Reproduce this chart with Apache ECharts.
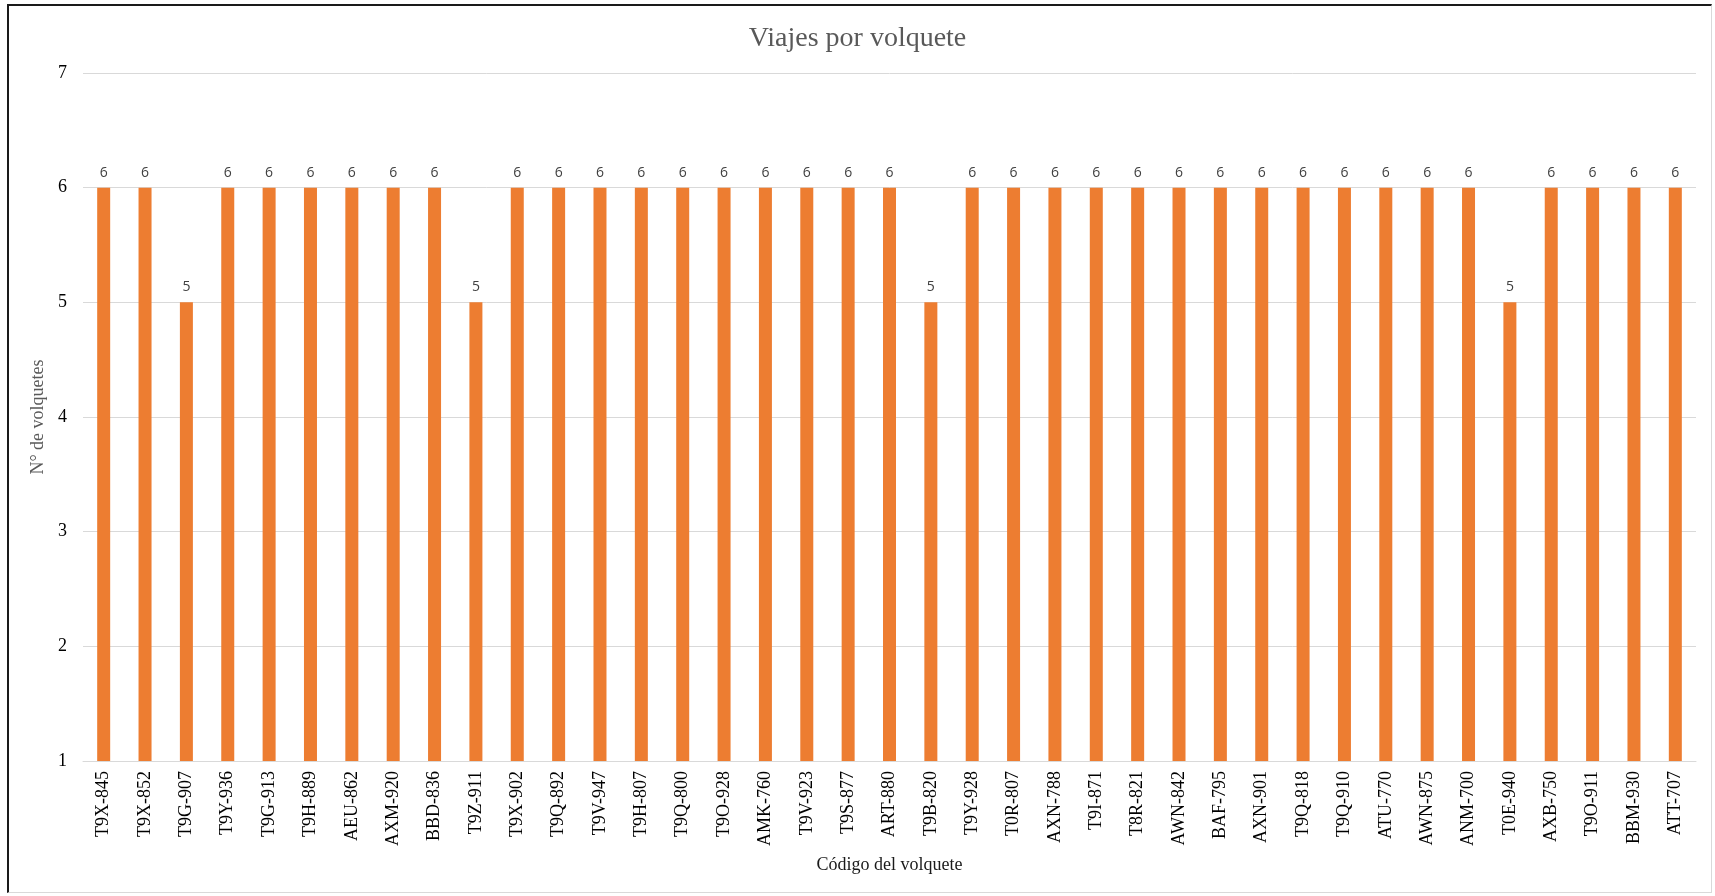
<!DOCTYPE html>
<html>
<head>
<meta charset="utf-8">
<title>Viajes por volquete</title>
<script src="https://cdn.jsdelivr.net/npm/echarts@6/dist/echarts.min.js"></script>
<style>
  html, body { margin: 0; padding: 0; background: #ffffff; }
  #frame {
    position: absolute; left: 7px; top: 4px; width: 1705px; height: 889px;
    border-top: 2px solid #1a1a1a; border-left: 2px solid #1a1a1a;
    border-right: 1px solid #d9d9d9; border-bottom: 1px solid #d9d9d9;
    box-sizing: border-box;
  }
  #chart { position: absolute; left: 0; top: 0; width: 1715px; height: 896px; }
</style>
</head>
<body>
<div id="frame"></div>
<div id="chart"></div>
<script>
// Truck codes (x axis categories)
const codigos = [
  'T9X-845', 'T9X-852', 'T9G-907', 'T9Y-936', 'T9G-913', 'T9H-889', 'AEU-862',
  'AXM-920', 'BBD-836', 'T9Z-911', 'T9X-902', 'T9Q-892', 'T9V-947', 'T9H-807',
  'T9Q-800', 'T9O-928', 'AMK-760', 'T9V-923', 'T9S-877', 'ART-880', 'T9B-820',
  'T9Y-928', 'T0R-807', 'AXN-788', 'T9I-871', 'T8R-821', 'AWN-842', 'BAF-795',
  'AXN-901', 'T9Q-818', 'T9Q-910', 'ATU-770', 'AWN-875', 'ANM-700', 'T0E-940',
  'AXB-750', 'T9O-911', 'BBM-930', 'ATT-707'
];

// Trips made by each truck
const viajes = [
  6, 6, 5, 6, 6, 6, 6,
  6, 6, 5, 6, 6, 6, 6,
  6, 6, 6, 6, 6, 6, 5,
  6, 6, 6, 6, 6, 6, 6,
  6, 6, 6, 6, 6, 6, 5,
  6, 6, 6, 6
];

// Value axis range
const yMin = 1;
const yMax = 7;
const yStep = 1;

const serif = '"Liberation Serif", "DejaVu Serif", serif';
const sans = '"Open Sans", "Liberation Sans", sans-serif';

const chart = echarts.init(document.getElementById('chart'), null, { renderer: 'canvas' });

chart.setOption({
  backgroundColor: 'transparent',
  animation: false,
  title: {
    text: 'Viajes por volquete',
    left: 'center',
    top: 20,
    textStyle: { fontFamily: serif, fontSize: 28, fontWeight: 'normal', color: '#595959' }
  },
  grid: { left: 83, right: 19, top: 73, bottom: 135, containLabel: false },
  xAxis: {
    type: 'category',
    data: codigos,
    name: 'Código del volquete',
    nameLocation: 'middle',
    nameGap: 95,
    nameTextStyle: { fontFamily: serif, fontSize: 18, color: '#1a1a1a' },
    axisLine: { show: true, lineStyle: { color: '#d9d9d9', width: 1 } },
    axisTick: { show: false },
    axisLabel: {
      rotate: 90,
      interval: 0,
      margin: 10,
      fontFamily: serif,
      fontSize: 18,
      color: '#000000'
    }
  },
  yAxis: {
    type: 'value',
    min: yMin,
    max: yMax,
    interval: yStep,
    name: 'N° de volquetes',
    nameLocation: 'middle',
    nameGap: 29,
    nameRotate: 90,
    nameTextStyle: { fontFamily: serif, fontSize: 18, color: '#595959' },
    axisLine: { show: false },
    axisTick: { show: false },
    axisLabel: { margin: 16, fontFamily: serif, fontSize: 18, color: '#000000' },
    splitLine: { show: true, lineStyle: { color: '#d9d9d9', width: 1 } }
  },
  series: [{
    type: 'bar',
    data: viajes,
    barWidth: 13,
    itemStyle: { color: '#ED7D31' },
    label: {
      show: true,
      position: 'top',
      distance: 8,
      fontFamily: sans,
      fontSize: 14,
      color: '#404040'
    }
  }]
});
</script>
</body>
</html>
